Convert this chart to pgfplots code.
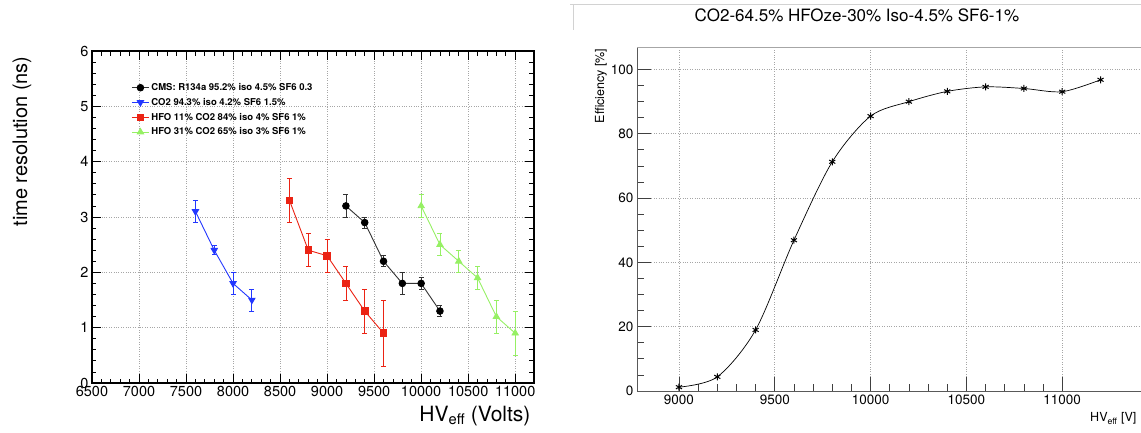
\documentclass[border=0pt]{standalone}
\usepackage{fontspec}
\setmainfont{TeX Gyre Heros}
\usepackage{pgfplots}
\pgfplotsset{compat=1.18}
\usepackage{pgfplotstable}

\definecolor{rblue}{RGB}{35,55,255}
\definecolor{rred}{RGB}{235,35,20}
\definecolor{rgreen}{RGB}{150,240,100}

\pgfplotstableread{
x y e
9200 3.2 0.2
9400 2.9 0.1
9600 2.2 0.1
9800 1.8 0.2
10000 1.8 0.1
10200 1.3 0.1
}\tblack
\pgfplotstableread{
x y e
7600 3.1 0.2
7800 2.4 0.08
8000 1.8 0.2
8200 1.5 0.2
}\tblue
\pgfplotstableread{
x y e
8600 3.3 0.4
8800 2.4 0.3
9000 2.3 0.3
9200 1.8 0.3
9400 1.3 0.4
9600 0.9 0.6
}\tred
\pgfplotstableread{
x y e
10000 3.2 0.2
10200 2.5 0.2
10400 2.2 0.2
10600 1.9 0.2
10800 1.2 0.3
11000 0.9 0.4
}\tgreen
\pgfplotstableread{
x y
9000 1.2
9200 4.4
9400 19.0
9600 46.9
9800 71.3
10000 85.5
10200 90.0
10400 93.2
10600 94.6
10800 94.1
11000 93.1
11200 96.8
}\teff

\begin{document}
\begin{tikzpicture}[x=1pt,y=1pt]
\useasboundingbox (0,0) rectangle (1141,-432);
\clip (0,0) rectangle (1141,-432);
\draw[gray!35, line width=1pt] (570,-4) -- (1141,-4);
\draw[gray!35, line width=1pt] (573,-4) -- (573,-30);

\begin{axis}[
  at={(92pt,-383pt)}, anchor=south west,
  width=442pt, height=332pt, scale only axis,
  xmin=6500, xmax=11200, ymin=0, ymax=6,
  scaled ticks=false,
  xtick={6500,7000,...,11000}, ytick={0,1,...,6},
  minor x tick num=4, minor y tick num=4,
  tick align=inside, major tick length=9pt, minor tick length=4.5pt,
  grid=major, major grid style={dotted, gray!70, line width=0.7pt},
  axis line style={line width=1.2pt},
  tick style={line width=0.8pt, black},
  /pgf/number format/assume math mode=true,
  /pgf/number format/1000 sep={},
  ticklabel style={font=\fontsize{14.5}{16}\selectfont},
  xlabel={HV\textsubscript{eff} (Volts)},
  xlabel style={at={(axis description cs:1,-0.1145)}, anchor=base east, font=\fontsize{21}{24}\selectfont},
  ylabel={time resolution (ns)},
  ylabel style={at={(axis description cs:-0.1584,0.994)}, anchor=east, font=\fontsize{20}{24}\selectfont},
  legend style={at={(axis description cs:0.082,0.915)}, anchor=north west, draw=none, fill=none,
    font=\bfseries\fontsize{9.5}{11}\selectfont, row sep=2.2pt},
  legend cell align=left,
  error bars/error bar style={line width=0.8pt},
  error bars/error mark options={rotate=90, line width=0.8pt, mark size=2.5pt},
]
\addplot[black!80, line width=0.9pt, mark=*, mark size=3.3pt, mark options={fill=black, draw=black},
  error bars/.cd, y dir=both, y explicit] table[x=x, y=y, y error=e] {\tblack};
\addlegendentry{CMS: R134a 95.2\% iso 4.5\% SF6 0.3}
\addplot[rblue, line width=0.9pt, mark=triangle*, mark size=3.6pt, mark options={rotate=180, fill=rblue},
  error bars/.cd, y dir=both, y explicit] table[x=x, y=y, y error=e] {\tblue};
\addlegendentry{CO2 94.3\% iso 4.2\% SF6 1.5\%}
\addplot[rred, line width=0.9pt, mark=square*, mark size=3.3pt, mark options={fill=rred},
  error bars/.cd, y dir=both, y explicit] table[x=x, y=y, y error=e] {\tred};
\addlegendentry{HFO 11\% CO2 84\% iso 4\% SF6 1\%}
\addplot[rgreen, line width=0.9pt, mark=triangle*, mark size=3.6pt, mark options={fill=rgreen},
  error bars/.cd, y dir=both, y explicit] table[x=x, y=y, y error=e] {\tgreen};
\addlegendentry{HFO 31\% CO2 65\% iso 3\% SF6 1\%}
\end{axis}

\begin{axis}[
  at={(637pt,-391pt)}, anchor=south west,
  width=508pt, height=344pt, scale only axis,
  xmin=8781, xmax=11432, ymin=0, ymax=107,
  scaled ticks=false,
  xtick={9000,9500,...,11000}, ytick={0,20,...,100},
  minor x tick num=4, minor y tick num=3,
  tick pos=left,
  tick align=inside, major tick length=14pt, minor tick length=7pt,
  grid=major, major grid style={dotted, gray!70, line width=0.7pt},
  axis line style={line width=1pt, black!65},
  tick style={line width=0.8pt, black!75},
  /pgf/number format/assume math mode=true,
  /pgf/number format/1000 sep={},
  ticklabel style={font=\fontsize{13.5}{15}\selectfont},
  xlabel={HV\textsubscript{eff} [V]},
  xlabel style={at={(axis description cs:0.990,-0.090)}, anchor=base east, font=\fontsize{12.5}{14}\selectfont},
  ylabel={Efficiency [\%]},
  ylabel style={at={(axis description cs:-0.0709,1.0058)}, anchor=east, font=\fontsize{12.5}{14}\selectfont},
  title={CO2-64.5\% HFOze-30\% Iso-4.5\% SF6-1\%},
  title style={at={(axis description cs:0.433,1.058)}, anchor=base, font=\fontsize{17}{20}\selectfont},
]
\addplot[black, line width=0.7pt, smooth, tension=0.5, mark=asterisk, mark size=3.5pt,
  mark options={line width=1pt}] table[x=x, y=y] {\teff};
\draw[gray!70, line width=1.5pt] (rel axis cs:0,1) -- (rel axis cs:1,1);
\end{axis}
\end{tikzpicture}
\end{document}
